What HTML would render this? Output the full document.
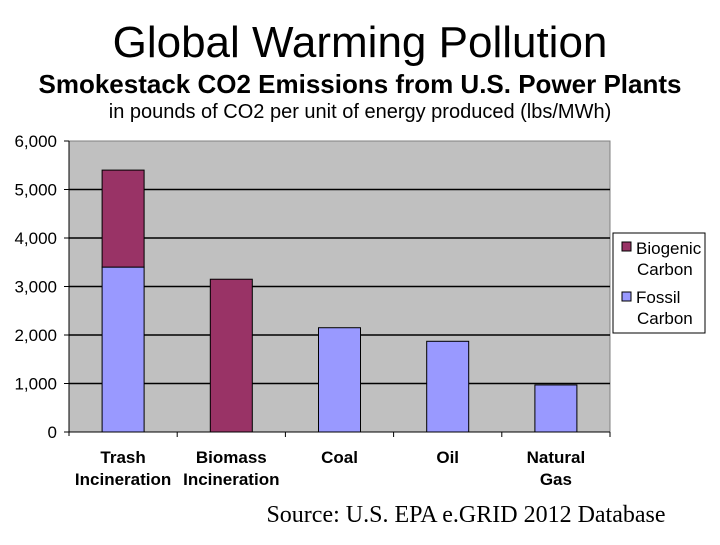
<!DOCTYPE html>
<html><head><meta charset="utf-8"><style>
body{margin:0;background:#fff;width:720px;height:540px;overflow:hidden}
svg text{font-family:"Liberation Sans",sans-serif}
</style></head><body>
<svg id="chart" width="720" height="540" xmlns="http://www.w3.org/2000/svg">
<text x="360" y="57" text-anchor="middle" font-size="44">Global Warming Pollution</text>
<text x="360" y="93" text-anchor="middle" font-size="26" font-weight="bold">Smokestack CO2 Emissions from U.S. Power Plants</text>
<text x="360" y="118" text-anchor="middle" font-size="20">in pounds of CO2 per unit of energy produced (lbs/MWh)</text>
<rect x="69" y="141" width="541" height="291" fill="#c0c0c0" stroke="#808080"/>
<g id="grid"></g><g id="bars"></g><g id="axes"></g>
<g>
<rect x="613" y="233" width="92" height="100" fill="#fff" stroke="#000"/>
<rect x="622" y="242" width="9" height="9" fill="#993366" stroke="#000"/>
<text x="636" y="254" font-size="17">Biogenic</text>
<text x="637" y="275" font-size="17">Carbon</text>
<rect x="622" y="292" width="9" height="9" fill="#9999ff" stroke="#000"/>
<text x="636" y="303" font-size="17">Fossil</text>
<text x="637" y="324" font-size="17">Carbon</text>
</g>
<text x="466" y="522" text-anchor="middle" font-size="24" style="font-family:'Liberation Serif',serif">Source: U.S. EPA e.GRID 2012 Database</text>
</svg>
<script>
const categories=[["Trash","Incineration"],["Biomass","Incineration"],["Coal"],["Oil"],["Natural","Gas"]];
const fossil=[3400,0,2150,1870,970];
const biogenic=[2000,3150,0,0,0];
const ticks=[0,1000,2000,3000,4000,5000,6000];
const tickLabels=["0","1,000","2,000","3,000","4,000","5,000","6,000"];
const NS="http://www.w3.org/2000/svg";
const X0=69,X1=610,Y0=432,Y1=141,YMAX=6000;
const y=v=>Y0-(v/YMAX)*(Y0-Y1);
const bw=(X1-X0)/categories.length;
const xc=i=>X0+bw*(i+0.5);
function mk(t,a,p){const e=document.createElementNS(NS,t);for(const k in a)e.setAttribute(k,a[k]);p.appendChild(e);return e;}
const grid=document.getElementById('grid'),bars=document.getElementById('bars'),axes=document.getElementById('axes');
ticks.forEach((t,i)=>{
 if(t>0&&t<YMAX){const g=mk('line',{x1:X0,x2:X1,y1:y(t),y2:y(t),stroke:'#000','stroke-width':1.5},grid);
 
 }
 mk('line',{x1:X0-5,x2:X0,y1:y(t),y2:y(t),stroke:'#000'},axes);
 const tx=mk('text',{x:X0-12,y:y(t)+6,'text-anchor':'end','font-size':17},axes);tx.textContent=tickLabels[i];
 
 
});
mk('line',{x1:X0,x2:X0,y1:Y1,y2:Y0+4,stroke:'#000'},axes);
mk('line',{x1:X0,x2:X1,y1:Y0,y2:Y0,stroke:'#000'},axes);
categories.forEach((c,i)=>{
 const cx=xc(i),w=42;
 if(fossil[i]>0){const r=mk('rect',{x:cx-w/2,y:y(fossil[i]),width:w,height:Y0-y(fossil[i]),fill:'#9999ff',stroke:'#000'},bars);
 
 }
 if(biogenic[i]>0){const top=fossil[i]+biogenic[i];const r=mk('rect',{x:cx-w/2,y:y(top),width:w,height:y(fossil[i])-y(top),fill:'#993366',stroke:'#000'},bars);
 
 }
 mk('line',{x1:X0+bw*(i+1),x2:X0+bw*(i+1),y1:Y0,y2:Y0+5,stroke:'#000'},axes);
 c.forEach((s,j)=>{const t=mk('text',{x:cx,y:463+j*22,'text-anchor':'middle','font-size':17,'font-weight':'bold'},axes);t.textContent=s;
 
 });
});
</script>
</body></html>
